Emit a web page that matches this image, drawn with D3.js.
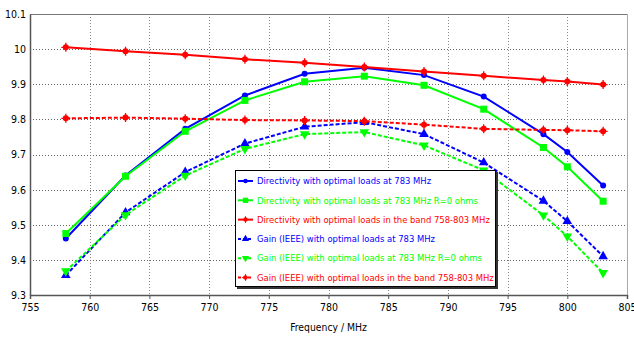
<!DOCTYPE html>
<html>
<head>
<meta charset="utf-8">
<script src="https://cdn.jsdelivr.net/npm/d3@7"></script>
<style>
  body { margin: 0; background: #fff; }
  svg { font-family: "DejaVu Sans Condensed", "DejaVu Sans", sans-serif; }
</style>
</head>
<body>
<div id="chart"></div>
<script>
// frequencies (MHz)
const freqs = [758, 763, 768, 773, 778, 783, 788, 793, 798, 800, 803];

const dirOpt783 = [9.461, 9.640, 9.773, 9.868, 9.930, 9.947, 9.926, 9.865, 9.758, 9.707, 9.612];
const dirOpt783R0 = [9.475, 9.638, 9.766, 9.854, 9.907, 9.923, 9.897, 9.829, 9.720, 9.665, 9.567];
const dirBand = [10.005, 9.994, 9.984, 9.971, 9.961, 9.949, 9.936, 9.924, 9.912, 9.908, 9.899];
const gainOpt783 = [9.356, 9.535, 9.650, 9.731, 9.779, 9.792, 9.758, 9.677, 9.568, 9.510, 9.410];
const gainOpt783R0 = [9.368, 9.528, 9.640, 9.716, 9.758, 9.764, 9.726, 9.655, 9.527, 9.467, 9.363];
const gainBand = [9.803, 9.805, 9.802, 9.798, 9.797, 9.795, 9.785, 9.773, 9.770, 9.769, 9.766];

const xTicks = [755, 760, 765, 770, 775, 780, 785, 790, 795, 800, 805];
const yTicks = [9.3, 9.4, 9.5, 9.6, 9.7, 9.8, 9.9, 10, 10.1];

const series = [
  { name: "Directivity with optimal loads at 783 MHz", values: dirOpt783, color: "#0000ff", dash: null, marker: "circle" },
  { name: "Directivity with optimal loads at 783 MHz R=0 ohms", values: dirOpt783R0, color: "#00ff00", dash: null, marker: "square" },
  { name: "Directivity with optimal loads in the band 758-803 MHz", values: dirBand, color: "#ff0000", dash: null, marker: "star" },
  { name: "Gain (IEEE) with optimal loads at 783 MHz", values: gainOpt783, color: "#0000ff", dash: "4,2", marker: "triUp" },
  { name: "Gain (IEEE) with optimal loads at 783 MHz R=0 ohms", values: gainOpt783R0, color: "#00ff00", dash: "4,2", marker: "triDown" },
  { name: "Gain (IEEE) with optimal loads in the band 758-803 MHz", values: gainBand, color: "#ff0000", dash: "4,2", marker: "star" }
];

const width = 634, height = 338;
const margin = { top: 14, right: 7, bottom: 43, left: 30 };
const innerWidth = width - margin.left - margin.right;
const innerHeight = height - margin.top - margin.bottom;

const svg = d3.select("#chart").append("svg")
  .attr("width", width)
  .attr("height", height);

const chart = svg.append("g")
  .attr("transform", `translate(${margin.left},${margin.top})`);

const x = d3.scaleLinear().domain([755, 805]).range([0, innerWidth]);
const y = d3.scaleLinear().domain([9.3, 10.1]).range([innerHeight, 0]);

// grid
chart.append("g")
  .selectAll("line")
  .data(xTicks.slice(1, -1))
  .join("line")
  .attr("x1", d => Math.round(x(d)) + 0.5).attr("x2", d => Math.round(x(d)) + 0.5)
  .attr("y1", 0).attr("y2", innerHeight)
  .attr("stroke", "#888").attr("stroke-dasharray", "1,2");

chart.append("g")
  .selectAll("line")
  .data(yTicks.slice(1, -1))
  .join("line")
  .attr("y1", d => Math.round(y(d)) + 0.5).attr("y2", d => Math.round(y(d)) + 0.5)
  .attr("x1", 0).attr("x2", innerWidth)
  .attr("stroke", "#666").attr("stroke-dasharray", "1,2");

// frame (top/right lighter)
chart.append("line")
  .attr("x1", 0).attr("x2", innerWidth).attr("y1", 0.5).attr("y2", 0.5)
  .attr("stroke", "#777");
chart.append("line")
  .attr("x1", innerWidth + 0.5).attr("x2", innerWidth + 0.5).attr("y1", 0).attr("y2", innerHeight)
  .attr("stroke", "#aaa");

// axes
const xAxis = chart.append("g")
  .attr("transform", `translate(0,${innerHeight})`)
  .call(d3.axisBottom(x).tickValues(xTicks).tickSize(4).tickFormat(d3.format("d")));
const yAxis = chart.append("g")
  .call(d3.axisLeft(y).tickValues(yTicks).tickSize(0).tickPadding(4).tickFormat(d => d3.format("")(+d.toFixed(1))));

[xAxis, yAxis].forEach(a => {
  a.select(".domain").attr("stroke", "#555").attr("stroke-width", 1.5);
  a.selectAll(".tick line").attr("stroke", "#555");
  a.selectAll(".tick text").attr("fill", "#000").attr("font-size", 10.5)
    .attr("font-family", "'DejaVu Sans Condensed', 'DejaVu Sans', sans-serif");
});
xAxis.selectAll(".tick text").attr("dy", "0.9em");
// last label would run off the right edge
xAxis.selectAll(".tick text").filter(d => d === 805).attr("text-anchor", "end").attr("dx", "9");

svg.append("text")
  .attr("x", margin.left + innerWidth / 2)
  .attr("y", height - 7)
  .attr("text-anchor", "middle")
  .attr("font-size", 10.3)
  .text("Frequency / MHz");

// markers
function drawMarker(g, type, color) {
  if (type === "circle") {
    g.append("circle").attr("r", 3).attr("fill", color);
  } else if (type === "square") {
    g.append("rect").attr("x", -3.5).attr("y", -3.5).attr("width", 7).attr("height", 7).attr("fill", color);
  } else if (type === "star") {
    g.append("circle").attr("r", 3).attr("fill", color);
    g.append("path").attr("d", "M-4.5,0H4.5M0,-4.5V4.5").attr("stroke", color).attr("stroke-width", 1.3);
  } else if (type === "triUp") {
    g.append("path").attr("d", d3.symbol(d3.symbolTriangle, 40)()).attr("fill", color);
  } else if (type === "triDown") {
    g.append("path").attr("d", d3.symbol(d3.symbolTriangle, 40)()).attr("transform", "rotate(180)").attr("fill", color);
  }
}

const line = d3.line()
  .x(d => x(d[0]))
  .y(d => y(d[1]));

series.forEach(s => {
  const pts = freqs.map((f, i) => [f, s.values[i]]);
  chart.append("path")
    .datum(pts)
    .attr("fill", "none")
    .attr("stroke", s.color)
    .attr("stroke-width", 2)
    .attr("stroke-dasharray", s.dash)
    .attr("d", line);
  pts.forEach(p => {
    const g = chart.append("g").attr("transform", `translate(${x(p[0])},${y(p[1])})`);
    drawMarker(g, s.marker, s.color);
  });
});

// legend
const legend = svg.append("g").attr("transform", "translate(235,170)");
legend.append("rect")
  .attr("x", 2).attr("y", 2).attr("width", 261).attr("height", 117)
  .attr("fill", "#333");
legend.append("rect")
  .attr("x", 0.5).attr("y", 0.5).attr("width", 260).attr("height", 116)
  .attr("fill", "#fff").attr("stroke", "#000");

series.forEach((s, i) => {
  const ry = 11 + i * 19.3;
  legend.append("line")
    .attr("x1", 3).attr("x2", 18).attr("y1", ry).attr("y2", ry)
    .attr("stroke", s.color).attr("stroke-width", 2)
    .attr("stroke-dasharray", s.dash ? "3,2" : null);
  const g = legend.append("g").attr("transform", `translate(10.5,${ry}) scale(0.75)`);
  drawMarker(g, s.marker, s.color);
  legend.append("text")
    .attr("x", 22).attr("y", ry)
    .attr("dy", "0.35em")
    .attr("font-size", 9.4)
    .attr("fill", s.color)
    .text(s.name);
});
</script>
</body>
</html>
